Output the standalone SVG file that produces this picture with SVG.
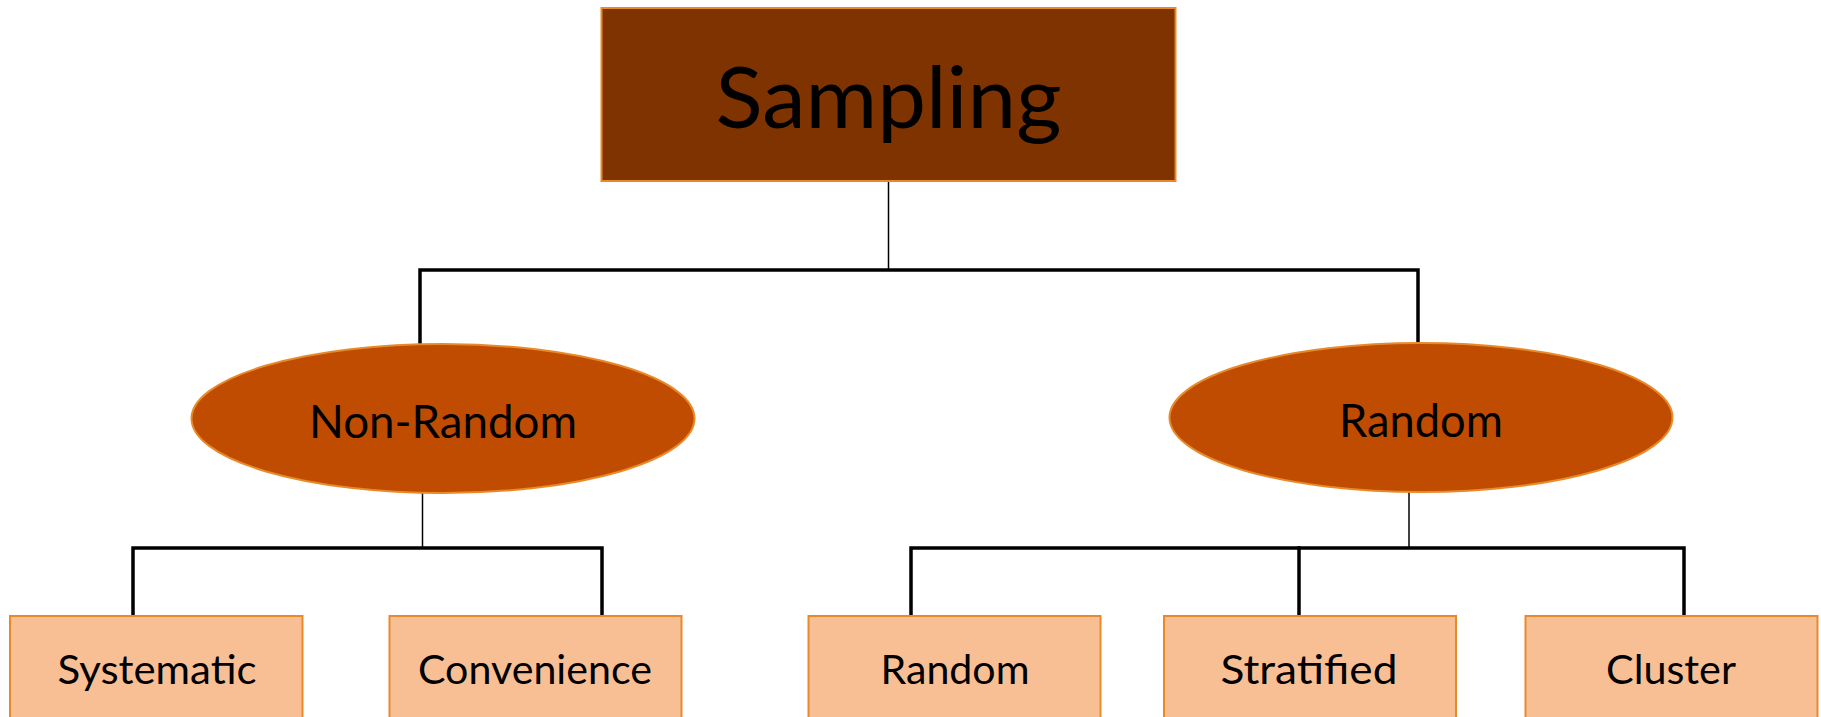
<svg xmlns="http://www.w3.org/2000/svg" width="1821" height="717" viewBox="0 0 1821 717">
<style>
.bg{fill:#ffffff}
.root{fill:#7F3300;stroke:#E8892A;stroke-width:2}
.mid{fill:#BF4C00;stroke:#E8892A;stroke-width:2}
.leaf{fill:#F8BF95;stroke:#E8892A;stroke-width:2}
.t{font-family:Lato,"Open Sans","Liberation Sans",sans-serif;fill:#000;text-anchor:middle}
.thick{stroke:#000;stroke-width:3.5;fill:none;stroke-linecap:square}
.thin{stroke:#000;stroke-width:1.5;fill:none}
</style>
<rect class="bg" x="0" y="0" width="1821" height="717"/>
<g id="connectors">
<line class="thin" x1="888.5" y1="181" x2="888.5" y2="270"/>
<polyline class="thick" points="420,344 420,270 1418,270 1418,344"/>
<line class="thin" x1="422.5" y1="493" x2="422.5" y2="548"/>
<polyline class="thick" points="133,615 133,548 602,548 602,615"/>
<line class="thin" x1="1409" y1="492" x2="1409" y2="548"/>
<polyline class="thick" points="911,615 911,548 1684,548 1684,615"/>
<line class="thick" x1="1299" y1="548" x2="1299" y2="615"/>
</g>
<g id="sampling">
<rect class="root" x="601.5" y="8" width="574" height="173"/>
<text class="t" x="888.5" y="128" font-size="86" textLength="346" lengthAdjust="spacingAndGlyphs">Sampling</text>
</g>
<g id="nonrandom">
<ellipse class="mid" cx="443" cy="418.5" rx="251.5" ry="74.5"/>
<text class="t" x="443" y="437.5" font-size="46" textLength="268" lengthAdjust="spacingAndGlyphs">Non-Random</text>
</g>
<g id="random">
<ellipse class="mid" cx="1421" cy="417.5" rx="251.5" ry="74.5"/>
<text class="t" x="1421" y="437" font-size="46" textLength="164" lengthAdjust="spacingAndGlyphs">Random</text>
</g>
<g id="systematic">
<rect class="leaf" x="10" y="616" width="292.5" height="120"/>
<text class="t" x="157" y="684" font-size="40" textLength="199" lengthAdjust="spacingAndGlyphs">Systematic</text>
</g>
<g id="convenience">
<rect class="leaf" x="389.5" y="616" width="292" height="120"/>
<text class="t" x="535" y="684" font-size="40" textLength="234" lengthAdjust="spacingAndGlyphs">Convenience</text>
</g>
<g id="random-leaf">
<rect class="leaf" x="808.5" y="616" width="292" height="120"/>
<text class="t" x="955" y="684" font-size="40" textLength="149" lengthAdjust="spacingAndGlyphs">Random</text>
</g>
<g id="stratified">
<rect class="leaf" x="1164" y="616" width="292" height="120"/>
<text class="t" x="1309" y="684" font-size="40" textLength="177" lengthAdjust="spacingAndGlyphs">Stratified</text>
</g>
<g id="cluster">
<rect class="leaf" x="1525.5" y="616" width="292" height="120"/>
<text class="t" x="1671" y="684" font-size="40" textLength="130" lengthAdjust="spacingAndGlyphs">Cluster</text>
</g>
</svg>
